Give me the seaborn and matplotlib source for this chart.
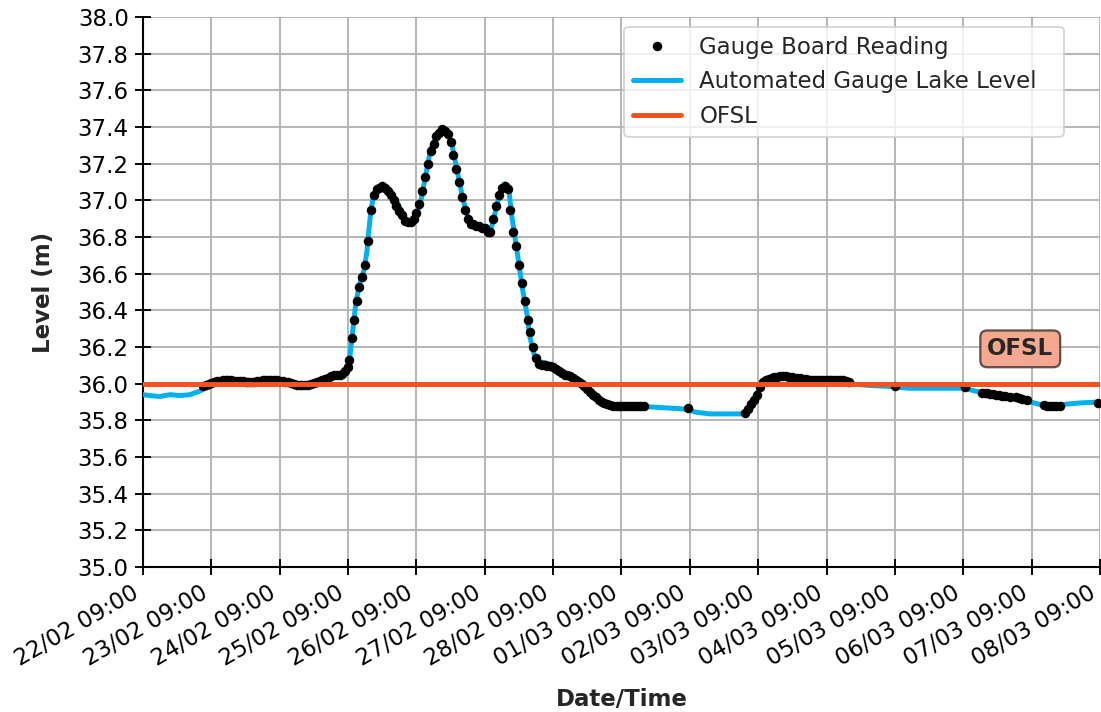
import numpy as np
import pandas as pd
import matplotlib
matplotlib.use("Agg")
import matplotlib.pyplot as plt
import matplotlib.dates as mdates
from matplotlib.lines import Line2D
import seaborn as sns

# start of the record: 22/02 09:00
start = pd.Timestamp("2023-02-22 09:00")
end = pd.Timestamp("2023-03-08 09:00")

# automated gauge lake level (hours after start, level m)
auto_hours = [0, 2.5, 6, 9.5, 13, 16.5, 20, 23.5, 27, 34, 41, 48, 51.6, 55, 58.6, 62, 65.7, 69, 71,
              72.3, 73, 73.7, 74.8, 76.2, 77.6, 78.6, 79.7, 80.8, 82.5, 85, 87.4, 89.5, 91.6, 93.7,
              95.9, 97.6, 99.4, 101, 103, 105, 106.7, 108.5, 110.2, 112, 113.8, 115.5, 117.6, 120,
              121.8, 123.6, 125.3, 127, 128.5, 129.6, 130.6, 132, 133.4, 134.8, 135.9, 137.3, 138.7,
              141, 143.6, 146.4, 150, 153.4, 157, 159.7, 162.6, 165.7, 171, 176, 181.5, 186.8, 191.4,
              193.8, 199, 204, 209.6, 211.4, 213, 214.9, 216.6, 218.4, 221.9, 225.4, 230.7, 237.7,
              244.7, 248, 255, 262, 269, 280, 288.6, 292, 297.4, 304.4, 311.4, 316.7, 322, 329, 336]
auto_level = [35.94, 35.935, 35.93, 35.94, 35.935, 35.94, 35.96, 35.99, 36.01, 36.02, 36.015, 36.02,
              36.0, 35.99, 36.0, 36.02, 36.04, 36.05, 36.06,
              36.1, 36.2, 36.3, 36.45, 36.55, 36.62, 36.72, 36.9, 37.02, 37.07, 37.08, 37.04, 36.98,
              36.91, 36.88, 36.91, 37.0, 37.15, 37.28, 37.35, 37.39, 37.38, 37.3, 37.17, 37.03, 36.92,
              36.87, 36.865, 36.85, 36.82, 36.93, 37.04, 37.09, 37.05, 36.9, 36.8, 36.65, 36.5, 36.38,
              36.25, 36.16, 36.12, 36.115, 36.1, 36.07, 36.04, 36.01, 35.96, 35.92, 35.895, 35.88,
              35.88, 35.875, 35.87, 35.865, 35.86, 35.845, 35.835, 35.835, 35.835, 35.84, 35.88, 35.93,
              35.98, 36.02, 36.035, 36.04, 36.03, 36.02, 36.02, 36.0, 35.99, 35.985, 35.975, 35.975,
              35.975, 35.96, 35.945, 35.925, 35.9, 35.88, 35.885, 35.895, 35.9]

# gauge board readings (hours after start, level m)
board_hours = [21, 22, 23, 24, 25, 26, 27, 28, 29, 30, 31, 32, 33, 34, 35, 36, 37, 38, 39, 40,
               41, 42, 43, 44, 45, 46, 47, 48, 49, 50, 51, 52, 53, 54, 55, 56, 57, 58, 59, 60,
               61, 62, 63, 64, 65, 66, 67, 68, 69, 70, 71, 72, 72.5, 73.3, 74, 75, 76, 77, 78, 79,
               80, 81, 82, 83, 84, 85, 86, 87, 88, 89, 90, 91, 92, 93, 94, 95, 96, 97, 98, 99,
               100, 101, 102, 103, 104, 105, 106, 107, 108, 109, 110, 111, 112, 113, 114, 115, 116,
               117, 118, 119, 120, 121, 122, 123, 124, 125, 126, 127, 128, 129, 130, 131, 132, 133,
               134, 135, 136, 137, 138, 139, 140, 141, 142, 143, 144, 145, 146, 147, 148, 149, 150,
               151, 152, 153, 154, 155, 156, 157, 158, 159, 160, 161, 162, 163, 164, 165, 166, 167,
               168, 169, 170, 171, 172, 173, 174, 175, 176,
               191.3,
               211.4, 212.4, 213.5, 214.5, 215.6, 216.6, 217.7, 218.7, 219.7, 220.7, 221.7, 222.7,
               223.7, 224.7, 225.7, 226.7, 227.7, 228.7, 229.7, 230.7, 231.7, 232.7, 233.7, 234.7,
               235.7, 236.7, 237.7, 238.7, 239.7, 240.7, 241.7, 242.7, 243.7, 244.7, 245.7, 246.7,
               247.7,
               264, 288.6,
               294.6, 295.6, 296.5, 297.5, 298.4, 299.5, 300.5, 301.5, 302.5, 304.5, 306.5, 307.5,
               308.5, 310.5,
               316.5, 317.5, 318.5, 319.5, 320.5, 322, 335.3]
board_level = [35.99, 35.995, 36.0, 36.005, 36.01, 36.015, 36.015, 36.02, 36.02, 36.02, 36.02, 36.015,
               36.015, 36.015, 36.015, 36.01, 36.01, 36.01, 36.01, 36.015,
               36.015, 36.02, 36.02, 36.02, 36.02, 36.02, 36.02, 36.015, 36.015, 36.01, 36.01, 36.005,
               36.0, 35.995, 35.995, 35.995, 35.995, 35.995, 36.0, 36.005,
               36.01, 36.015, 36.02, 36.025, 36.03, 36.04, 36.045, 36.05, 36.05, 36.055, 36.07, 36.09,
               36.13, 36.25, 36.35, 36.45, 36.53, 36.58, 36.65, 36.78,
               36.95, 37.03, 37.06, 37.07, 37.08, 37.07, 37.05, 37.03, 37.0, 36.97, 36.94, 36.92, 36.89,
               36.88, 36.88, 36.9, 36.93, 36.98, 37.05, 37.13,
               37.2, 37.27, 37.31, 37.35, 37.37, 37.39, 37.38, 37.36, 37.32, 37.25, 37.17, 37.1, 37.02,
               36.95, 36.9, 36.87, 36.87,
               36.86, 36.86, 36.85, 36.85, 36.83, 36.83, 36.9, 36.97, 37.03, 37.07, 37.08, 37.06, 36.95,
               36.83, 36.75, 36.65, 36.55,
               36.45, 36.35, 36.28, 36.2, 36.14, 36.11, 36.1, 36.1, 36.095, 36.095, 36.09, 36.08, 36.07,
               36.06, 36.05, 36.045, 36.04,
               36.03, 36.02, 36.01, 36.0, 35.985, 35.97, 35.955, 35.94, 35.925, 35.91, 35.9, 35.895,
               35.89, 35.885, 35.88, 35.88, 35.88,
               35.88, 35.88, 35.88, 35.88, 35.88, 35.88, 35.88, 35.88, 35.88,
               35.865,
               35.84, 35.86, 35.89, 35.91, 35.94, 35.98, 36.01, 36.02, 36.025, 36.03, 36.035, 36.035,
               36.04, 36.04, 36.04, 36.035, 36.035, 36.03, 36.03, 36.03, 36.025, 36.025, 36.02, 36.02,
               36.02, 36.02, 36.02, 36.02, 36.02, 36.02, 36.02, 36.02, 36.02, 36.02, 36.02, 36.015,
               36.01,
               35.99, 35.98,
               35.95, 35.95, 35.95, 35.945, 35.945, 35.94, 35.94, 35.935, 35.935, 35.93, 35.925, 35.92,
               35.915, 35.91,
               35.885, 35.88, 35.88, 35.88, 35.88, 35.88, 35.895]

ofsl = 36.0
ofsl_label_hour = 308
ofsl_label_level = 36.19

assert len(auto_hours) == len(auto_level)
assert len(board_hours) == len(board_level)

auto = pd.DataFrame({"time": start + pd.to_timedelta(auto_hours, unit="h"), "level": auto_level})
board = pd.DataFrame({"time": start + pd.to_timedelta(board_hours, unit="h"), "level": board_level})

sns.set_style("ticks")
plt.rcParams["font.family"] = ["DejaVu Sans"]
plt.rcParams["font.size"] = 12

blue = "#00b0f0"
orange = "#f4511e"

fig = plt.figure(figsize=(1101 / 137, 712 / 137), dpi=137)
ax = fig.add_axes([143 / 1101, 1 - 567 / 712, 957 / 1101, 550 / 712])

sns.lineplot(data=auto, x="time", y="level", ax=ax, color=blue, lw=2.6, zorder=3)
ax.plot(board["time"], board["level"], "o", color="black", ms=4.0, zorder=4)
ax.axhline(ofsl, color=orange, lw=2.6, zorder=5)

ax.text(start + pd.Timedelta(hours=ofsl_label_hour), ofsl_label_level, "OFSL", fontsize=12,
        fontweight="bold", ha="center", va="center", zorder=6,
        bbox=dict(boxstyle="round,pad=0.3", fc="#f5a48a", ec="#5a4a46", lw=1.2, alpha=0.95))

ax.set_xlim(start, end)
ax.set_ylim(35.0, 38.0)
ax.set_yticks(np.arange(35.0, 38.01, 0.2))
ax.yaxis.set_major_formatter(plt.FormatStrFormatter("%.1f"))
ax.xaxis.set_major_locator(mdates.HourLocator(byhour=[9]))
ax.xaxis.set_major_formatter(mdates.DateFormatter("%d/%m %H:%M"))
plt.setp(ax.get_xticklabels(), rotation=30, ha="right")

ax.grid(True, color="#b4b4b4", lw=1.0)
ax.tick_params(direction="inout", length=8, width=1, colors="black", labelsize=12)
sns.despine(ax=ax)
for s in ["left", "bottom"]:
    ax.spines[s].set_color("black")
    ax.spines[s].set_linewidth(1.1)

ax.set_xlabel("Date/Time", fontweight="bold", fontsize=12, labelpad=9)
ax.set_ylabel("Level (m)", fontweight="bold", fontsize=12, labelpad=12)

handles = [Line2D([], [], marker="o", ls="none", color="black", ms=4),
           Line2D([], [], color=blue, lw=2.6),
           Line2D([], [], color=orange, lw=2.6)]
ax.legend(handles, ["Gauge Board Reading", "Automated Gauge Lake Level", "OFSL"],
          loc="upper left", bbox_to_anchor=(0.5026, 0.5, 0.4598, 0.482), mode="expand",
          borderaxespad=0, fontsize=12, handlelength=2.1, framealpha=0.8)

fig.savefig("out.png", dpi=137)
